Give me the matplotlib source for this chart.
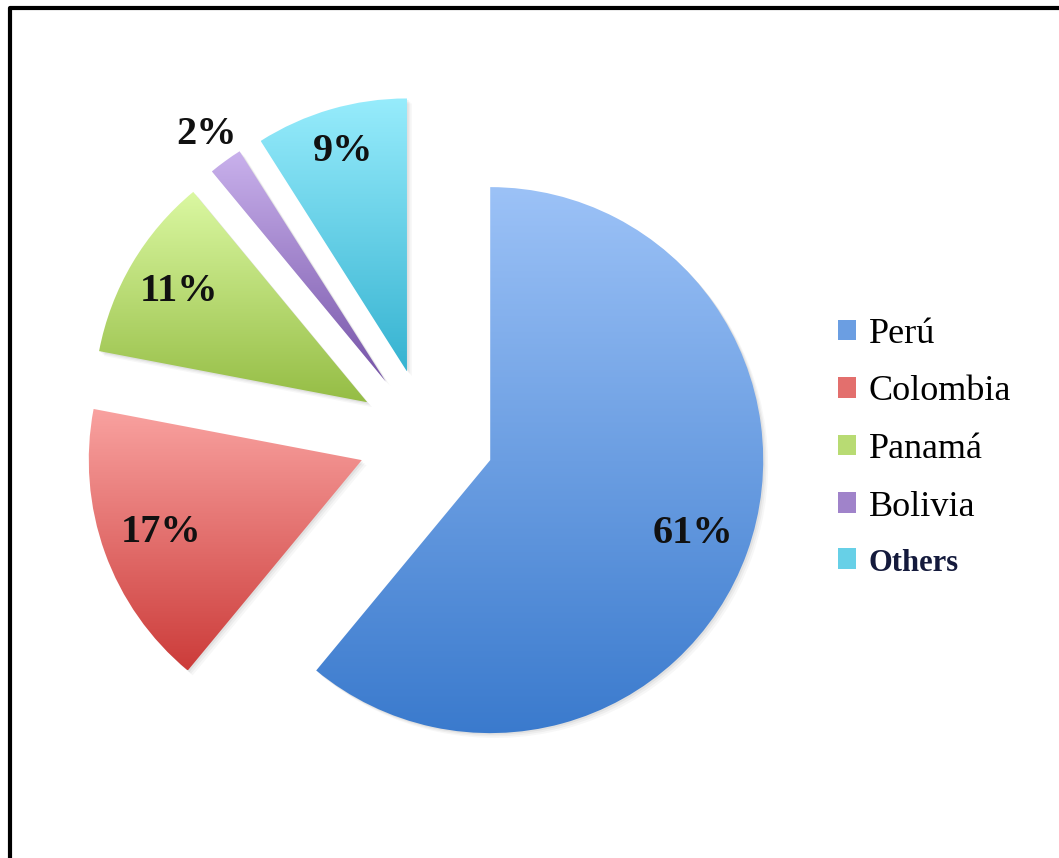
import matplotlib
matplotlib.use("Agg")
import matplotlib.pyplot as plt
import numpy as np
from matplotlib.colors import to_rgb
from matplotlib.lines import Line2D
from matplotlib.patches import Patch, Wedge

# data
countries = ["Perú", "Colombia", "Panamá", "Bolivia", "Others"]
shares = [61, 17, 11, 2, 9]
pct_labels = ["61%", "17%", "11%", "2%", "9%"]

# gradient colours per slice (top, bottom)
top_colors = ["#9cc2f7", "#f9a2a0", "#dbf8a2", "#c9b1ec", "#97ecfc"]
bottom_colors = ["#3a7acd", "#cc3c3a", "#95bd45", "#7654a8", "#36b3d1"]
label_dist = [0.79, 0.78, 0.80, 1.12, 0.84]

W, H = 1059, 858
fig = plt.figure(figsize=(W / 100, H / 100), dpi=100)
ax = fig.add_axes([0, 0, 1, 1])

wedges, _ = ax.pie(shares, startangle=90, counterclock=False, radius=1,
                   explode=[0.25] * len(shares),
                   wedgeprops=dict(linewidth=0, edgecolor="none"))

# soft drop shadow under each slice
for w in wedges:
    cx, cy = w.center
    for k, a in enumerate([0.05, 0.04, 0.03]):
        off = 0.006 * (k + 1)
        sh = Wedge((cx + off, cy - off), w.r, w.theta1, w.theta2,
                   facecolor="black", alpha=a, linewidth=0, zorder=0.5)
        ax.add_patch(sh)

# vertical gradient fill clipped to each slice
for w, c_top, c_bot in zip(wedges, top_colors, bottom_colors):
    verts = w.get_path().vertices
    x0, x1 = verts[:, 0].min(), verts[:, 0].max()
    y0, y1 = verts[:, 1].min(), verts[:, 1].max()
    t = np.linspace(0, 1, 256)[:, None]
    grad = (1 - t) * np.array(to_rgb(c_bot)) + t * np.array(to_rgb(c_top))
    grad = grad[:, None, :]
    im = ax.imshow(grad, extent=[x0, x1, y0, y1], origin="lower",
                   aspect="auto", interpolation="bilinear", zorder=1)
    im.set_clip_path(w)
    w.set_facecolor("none")
    w.set_zorder(1)

# percentage labels
for w, lab, d in zip(wedges, pct_labels, label_dist):
    ang = np.deg2rad((w.theta1 + w.theta2) / 2)
    cx, cy = w.center
    ax.text(cx + d * w.r * np.cos(ang), cy + d * w.r * np.sin(ang), lab,
            ha="center", va="center", fontsize=29, fontweight="bold",
            family="Liberation Serif", color="#111111", zorder=3)

# map data units so that radius = 273 px, true pie centre at (426, 437) px
scale = 273.0
cx_px, cy_px = 426, 437
ax.set_xlim(-cx_px / scale, (W - cx_px) / scale)
ax.set_ylim(-(H - cy_px) / scale, cy_px / scale)
ax.set_aspect("auto")
ax.axis("off")

# legend
mid_colors = [tuple((np.array(to_rgb(a)) + np.array(to_rgb(b))) / 2)
              for a, b in zip(top_colors, bottom_colors)]
handles = [Patch(facecolor=c, edgecolor="none") for c in mid_colors]
leg = fig.legend(handles, countries, loc="center left",
                 bbox_to_anchor=(838 / W, 1 - 448 / H), frameon=False,
                 prop={"family": "Liberation Serif", "size": 26},
                 handlelength=0.5, handleheight=0.5, handletextpad=0.35,
                 labelspacing=0.68, borderpad=0, borderaxespad=0)
others = leg.get_texts()[-1]
others.set_fontweight("bold")
others.set_fontsize(22)
others.set_color("#141a3c")

# frame lines (top and left edges of the original picture box)
fig.add_artist(Line2D([10 / W, 10 / W, 1], [0, 1 - 8 / H, 1 - 8 / H],
                      transform=fig.transFigure, color="black", linewidth=3))

fig.savefig("out.png", dpi=100)
